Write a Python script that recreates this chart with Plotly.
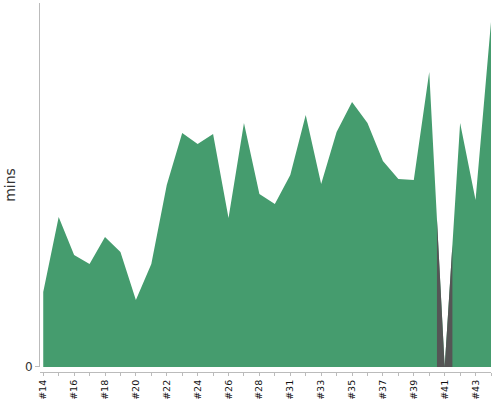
import numpy as np
import plotly.graph_objects as go

categories = ["#14", "#15", "#16", "#17", "#18", "#19", "#20", "#21", "#22", "#23",
              "#24", "#25", "#26", "#27", "#28", "#29", "#31", "#32", "#33", "#34",
              "#35", "#36", "#37", "#38", "#39", "#40", "#41", "#42", "#43", "#44"]
mins = [75, 150, 112, 103, 130, 115, 67, 103, 182, 234,
        223, 233, 149, 244, 173, 163, 192, 252, 183, 235,
        265, 244, 206, 188, 187, 295, 0, 244, 167, 345]
highlight = ["#41"]

idx = np.arange(len(categories))
vals = np.array(mins, dtype=float)

fig = go.Figure()
fig.add_trace(go.Scatter(x=idx, y=vals, mode="lines", fill="tozeroy",
                         line=dict(width=0, color="#459c6e"),
                         fillcolor="#459c6e", hoverinfo="skip"))

for h in highlight:
    c = categories.index(h)
    hx = np.array([c - 0.5, c, c + 0.5])
    hy = np.interp(hx, idx, vals)
    fig.add_trace(go.Scatter(x=hx, y=hy, mode="lines", fill="tozeroy",
                             line=dict(width=0, color="#555555"),
                             fillcolor="#555555", hoverinfo="skip"))

ticktext = [c if i % 2 == 0 else "" for i, c in enumerate(categories)]

fig.update_layout(
    width=500, height=400,
    margin=dict(l=40, r=9, t=3, b=28),
    paper_bgcolor="white", plot_bgcolor="white",
    showlegend=False,
    font=dict(family="DejaVu Sans", color="#222"),
    xaxis=dict(range=[-0.21, 29.0], tickmode="array", tickvals=idx, ticktext=ticktext,
               tickangle=-90, ticks="outside", ticklen=3, tickcolor="#bbb",
               showline=True, linecolor="#bbb", linewidth=1, showgrid=False,
               zeroline=False, tickfont=dict(size=9.5, color="#111"),
               anchor="free", position=0, automargin=False),
    yaxis=dict(range=[0, 364], domain=[0.0136, 1], tickvals=[0], ticktext=["0"],
               ticks="outside", ticklen=4, tickcolor="#bbb",
               showline=True, linecolor="#bbb", linewidth=1, showgrid=False,
               zeroline=False, tickfont=dict(size=12, color="#333"),
               title=dict(text="mins", font=dict(size=14, color="#333"), standoff=6),
               automargin=False),
)

fig.write_html("out.html", config={"displayModeBar": False},
               post_script="document.body.style.margin='0';document.body.style.padding='0';")
